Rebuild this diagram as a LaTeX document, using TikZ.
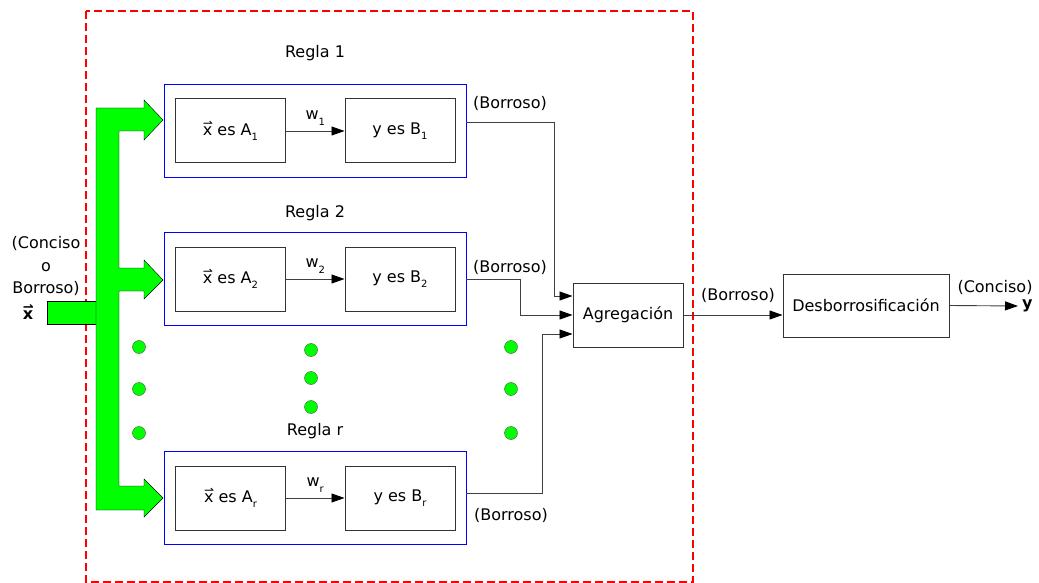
\documentclass[tikz,border=0pt]{standalone}
\usepackage{fontspec}
\setmainfont{DejaVu Sans}
\usetikzlibrary{arrows.meta,positioning}

\definecolor{verde}{RGB}{0,255,0}

% x con flecha y subindices bajos
\newcommand{\vx}{\mbox{\rlap{\raisebox{0.95ex}{\fontsize{12}{12}\selectfont ⇀}}x}}
\newcommand{\vxb}{\mbox{\rlap{\raisebox{1.0ex}{\fontsize{13}{13}\selectfont\bfseries ⇀}}\bfseries x}}
\newcommand{\sub}[1]{\raisebox{-0.6ex}{\fontsize{10}{10}\selectfont #1}}

\tikzset{
    regla/.style={draw=blue, line width=0.8pt, minimum width=302pt, minimum height=93pt},
    bloque/.style={draw=black!80, line width=1pt, minimum width=110pt, minimum height=64pt},
    flecha/.style={-{Triangle[length=13pt,width=9pt,color=black]}, draw=black!75, line width=0.9pt},
    punto/.style={circle, draw=black!70, fill=verde, inner sep=0pt, minimum size=13pt},
    texto/.style={inner sep=1pt}
}

\begin{document}
\begin{tikzpicture}[x=1pt, y=-1pt, font=\fontsize{16}{19}\selectfont]
    \useasboundingbox (0,0) rectangle (1039,583);

    % sistema difuso
    \draw[red, line width=2.7pt, dash pattern=on 8pt off 4pt] (86,11) rectangle (693,582);

    % entrada
    \draw[fill=verde] (47,301) rectangle (96,324);
    \draw[fill=verde] (96,108) -- (144,108) -- (144,100) -- (163,120) -- (144,140) -- (144,131)
        -- (119,131) -- (119,268) -- (144,268) -- (144,260) -- (163,280) -- (144,299) -- (144,291)
        -- (119,291) -- (119,486) -- (144,486) -- (144,479) -- (163,498) -- (144,517) -- (144,510)
        -- (96,510) -- cycle;
    \node[texto] (ent1) at (46,243) {(Conciso};
    \node[texto] (ent2) at (46,267) {o};
    \node[texto] (ent3) at (46,288) {Borroso)};
    \node[texto] (xin) at (28,312) {\vxb};

    % reglas
    \foreach \n/\y/\ly in {1/131/53, 2/279/213, r/498/431} {
        \node[regla] (r\n) at (315,\y) {};
        \node[bloque] (a\n) at (230.5,\y) {\vx{} es A\sub{\n}};
        \node[bloque] (b\n) at (400,\y) {y es B\sub{\n}};
        \draw[flecha] (a\n) -- node[above=2pt] (w\n) {w\sub{\n}} (b\n);
        \node (t\n) at (315,\ly) {Regla \n};
    }

    % puntos suspensivos
    \foreach \px/\py in {139/347, 139/389, 139/433, 311/350, 311/378, 311/407, 511/347, 511/389, 511/433}
        \node[punto] (d\px-\py) at (\px,\py) {};

    \node[bloque] (agg) at (628,315) {Agregación};
    \node[bloque, minimum width=166pt, minimum height=63pt] (dfz) at (866,305.5) {Desborrosificación};

    \draw[flecha] ([yshift=9pt]r1.east) -| ([xshift=-18pt,yshift=19pt]agg.west) -- ([yshift=19pt]agg.west);
    \draw[flecha] (r2.east) -| ([xshift=-52pt]agg.west) -- (agg.west);
    \draw[flecha] ([yshift=5pt]rr.east) -| ([xshift=-30pt,yshift=-19pt]agg.west) -- ([yshift=-19pt]agg.west);
    \node[texto] (s1) at (510,103) {(Borroso)};
    \node[texto] (s2) at (510,267) {(Borroso)};
    \node[texto] (sr) at (511,515) {(Borroso)};

    \draw[flecha] (agg.east) -- (agg.east -| dfz.west);
    \node[texto] (s4) at (738,295) {(Borroso)};

    \coordinate (ysal) at (1018,306);
    \draw[flecha] (dfz.east) -- (ysal);
    \node[texto, right=3pt of ysal] (yout) {\textbf{y}};
    \node[texto] (s5) at (995,287) {(Conciso)};
\end{tikzpicture}
\end{document}
